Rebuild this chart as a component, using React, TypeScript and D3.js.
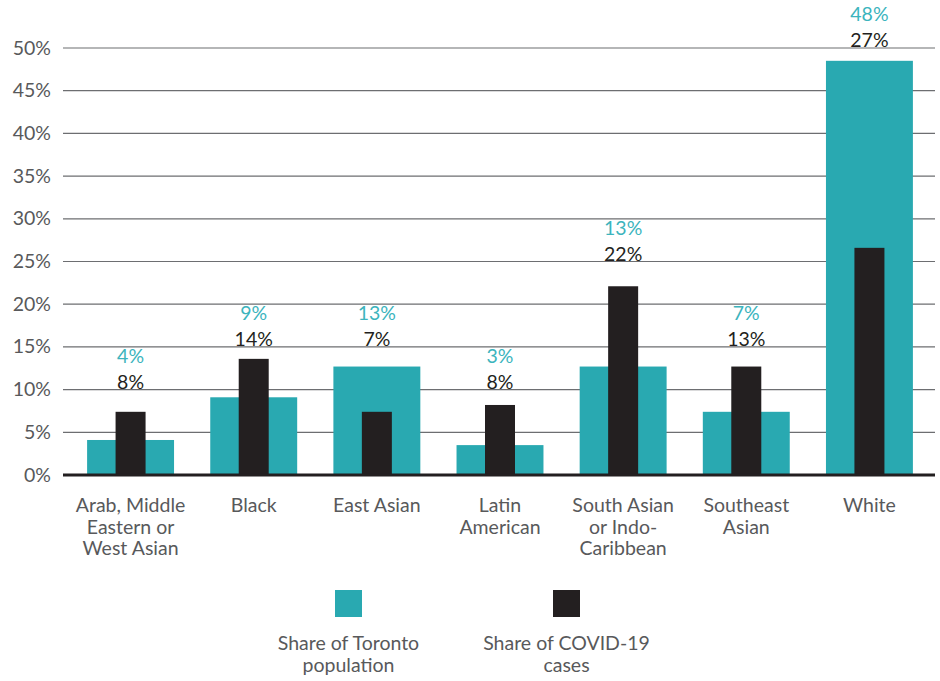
import React from "react";
import * as d3 from "d3";

const categories = [
  ["Arab, Middle", "Eastern or", "West Asian"],
  ["Black"],
  ["East Asian"],
  ["Latin", "American"],
  ["South Asian", "or Indo-", "Caribbean"],
  ["Southeast", "Asian"],
  ["White"],
];
const populationShare = [4.1, 9.1, 12.7, 3.5, 12.7, 7.4, 48.5];
const casesShare = [7.4, 13.6, 7.4, 8.2, 22.1, 12.7, 26.6];
const populationLabels = ["4%", "9%", "13%", "3%", "13%", "7%", "48%"];
const casesLabels = ["8%", "14%", "7%", "8%", "22%", "13%", "27%"];
const yTicks = [0, 5, 10, 15, 20, 25, 30, 35, 40, 45, 50];
const legendLabels = [
  ["Share of Toronto", "population"],
  ["Share of COVID-19", "cases"],
];

const TEAL = "#29a9b1";
const TEAL_TEXT = "#3cb4bd";
const DARK = "#231f20";
const GREY = "#58595b";
const FONT = "Lato, 'Open Sans', sans-serif";
const FS = 19.5;

export default function App() {
  const W = 940;
  const H = 681;
  const ids = categories.map((_, i) => String(i));
  const x = d3.scaleBand<string>().domain(ids).range([69, 931]).paddingInner(0.294).paddingOuter(0.147);
  const y = d3.scaleLinear().domain([0, 50]).range([475, 48]);
  const innerW = 30;
  const gridX0 = 63;
  const gridX1 = 935;

  const legendX = d3.scalePoint<number>().domain([0, 1]).range([348.5, 566.5]);

  return (
    <svg width={W} height={H} style={{ position: "absolute", left: 0, top: 0 }} fontFamily={FONT}>
      <rect width={W} height={H} fill="#fff" />
      {yTicks.map((t) => (
        <g key={t}>
          {t > 0 && (
            <line x1={gridX0} x2={gridX1} y1={y(t)} y2={y(t)} stroke="#6d6e71" strokeWidth={1.2} />
          )}
          <text x={51} y={y(t) + 6.5} textAnchor="end" fontSize={FS} fill={GREY}>
            {t}%
          </text>
        </g>
      ))}
      {ids.map((id, i) => {
        const bx = x(id)!;
        const bw = x.bandwidth();
        const cx = bx + bw / 2;
        const top = Math.max(populationShare[i], casesShare[i]);
        const level = Math.ceil(top / 5) * 5;
        const ly = y(level) - 1;
        return (
          <g key={id}>
            <rect x={bx} y={y(populationShare[i])} width={bw} height={y(0) - y(populationShare[i])} fill={TEAL} />
            <rect x={cx - innerW / 2} y={y(casesShare[i])} width={innerW} height={y(0) - y(casesShare[i])} fill={DARK} />
            <text x={cx} y={ly} textAnchor="middle" fontSize={FS} fill={DARK}>
              {casesLabels[i]}
            </text>
            <text x={cx} y={ly - 26} textAnchor="middle" fontSize={FS} fill={TEAL_TEXT}>
              {populationLabels[i]}
            </text>
            {categories[i].map((line, k) => (
              <text key={k} x={cx} y={512 + k * 21.5} textAnchor="middle" fontSize={FS} fill={GREY}>
                {line}
              </text>
            ))}
          </g>
        );
      })}
      <line x1={gridX0} x2={gridX1} y1={y(0)} y2={y(0)} stroke={DARK} strokeWidth={3} />
      {legendLabels.map((lines, i) => {
        const cx = legendX(i)!;
        return (
          <g key={i}>
            <rect x={cx - 13.5} y={590} width={27} height={27} fill={i === 0 ? TEAL : DARK} />
            {lines.map((l, k) => (
              <text key={k} x={cx} y={650 + k * 22} textAnchor="middle" fontSize={FS} fill={GREY}>
                {l}
              </text>
            ))}
          </g>
        );
      })}
    </svg>
  );
}
